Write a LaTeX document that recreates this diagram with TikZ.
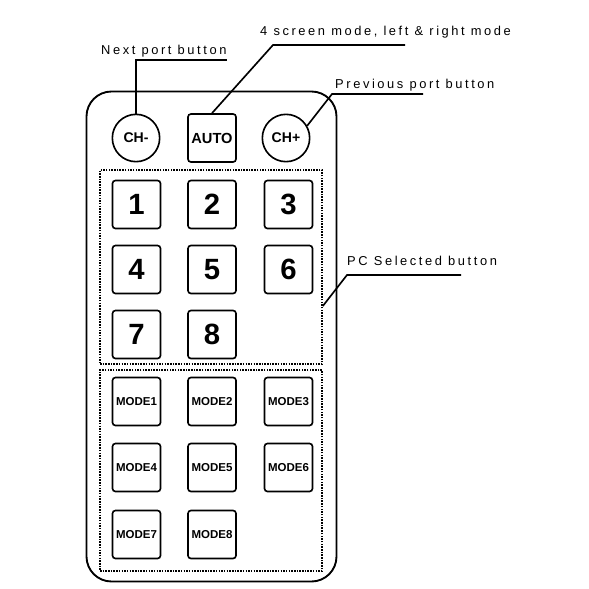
\documentclass[tikz,border=0pt]{standalone}
\usepackage{fontspec}
\setmainfont{Liberation Sans}
\newfontfamily\lblfont[LetterSpace=20]{Liberation Sans}
\usetikzlibrary{calc}

\begin{document}
\begin{tikzpicture}[x=0.3mm,y=-0.3mm,
    key/.style={rectangle,rounded corners=2.5pt,draw,line width=1.4pt,minimum size=1.44cm,inner sep=0pt,font=\bfseries\fontsize{25}{25}\selectfont},
    modekey/.style={key,font=\bfseries\fontsize{9.8}{9.8}\selectfont},
    chkey/.style={circle,draw,line width=1.4pt,minimum size=1.42cm,inner sep=0pt,font=\bfseries\fontsize{12}{12}\selectfont},
    grp/.style={rectangle,draw,densely dotted,line width=1.3pt,minimum width=6.66cm,inner sep=0pt},
    lbl/.style={anchor=base west,inner sep=0pt,font=\lblfont\fontsize{11}{11}\selectfont},
    lead/.style={line width=1.4pt}]
\useasboundingbox (0,0) rectangle (589,589);
% remote body
\node[draw,line width=1.6pt,rounded corners=0.75cm,minimum width=7.5cm,minimum height=14.7cm] (body) at (211.5,336.5) {};
\node[grp,minimum height=5.82cm] (pcgrp) at (211,267) {};
\node[grp,minimum height=6.03cm] (modegrp) at (211,470.5) {};
% top row
\node[chkey] (chm) at (136,138) {CH-};
\node[key,font=\bfseries\fontsize{12.5}{12.5}\selectfont] (auto) at (212,138) {AUTO};
\node[chkey] (chp) at (286,138) {CH+};
% pc keys
\node[key] (pc1) at (136.5,204.5) {1}; \node[key] (pc2) at (212,204.5) {2}; \node[key] (pc3) at (288.5,204.5) {3};
\node[key] (pc4) at (136.5,269.5) {4}; \node[key] (pc5) at (212,269.5) {5}; \node[key] (pc6) at (288.5,269.5) {6};
\node[key] (pc7) at (136.5,334.5) {7}; \node[key] (pc8) at (212,334.5) {8};
% mode keys
\node[modekey] (m1) at (136.5,401.5) {MODE1}; \node[modekey] (m2) at (212,401.5) {MODE2}; \node[modekey] (m3) at (288.5,401.5) {MODE3};
\node[modekey] (m4) at (136.5,467.5) {MODE4}; \node[modekey] (m5) at (212,467.5) {MODE5}; \node[modekey] (m6) at (288.5,467.5) {MODE6};
\node[modekey] (m7) at (136.5,534.5) {MODE7}; \node[modekey] (m8) at (212,534.5) {MODE8};
% labels
\node[lbl] (nextlbl) at (101,54) {Next port button};
\node[lbl] (autolbl) at (260,35) {4 screen mode, left \& right mode};
\node[lbl] (prevlbl) at (335,88) {Previous port button};
\node[lbl] (pclbl) at (347,265) {PC Selected button};
\coordinate (nexte) at (227,60);
\coordinate (autok) at (273,45); \coordinate (autoe) at (405,45);
\coordinate (prevk) at (332,94); \coordinate (preve) at (423,94);
\coordinate (pck) at (347,275); \coordinate (pce) at (461,275);
\draw[lead] (chm.north) -- (chm.north |- nexte) -- (nexte);
\draw[lead] (auto.north) -- (autok) -- (autoe);
\draw[lead] (chp.30) -- (prevk) -- (preve);
\draw[lead] ($(pcgrp.north east)!0.7!(pcgrp.south east)$) -- (pck) -- (pce);
\end{tikzpicture}
\end{document}
